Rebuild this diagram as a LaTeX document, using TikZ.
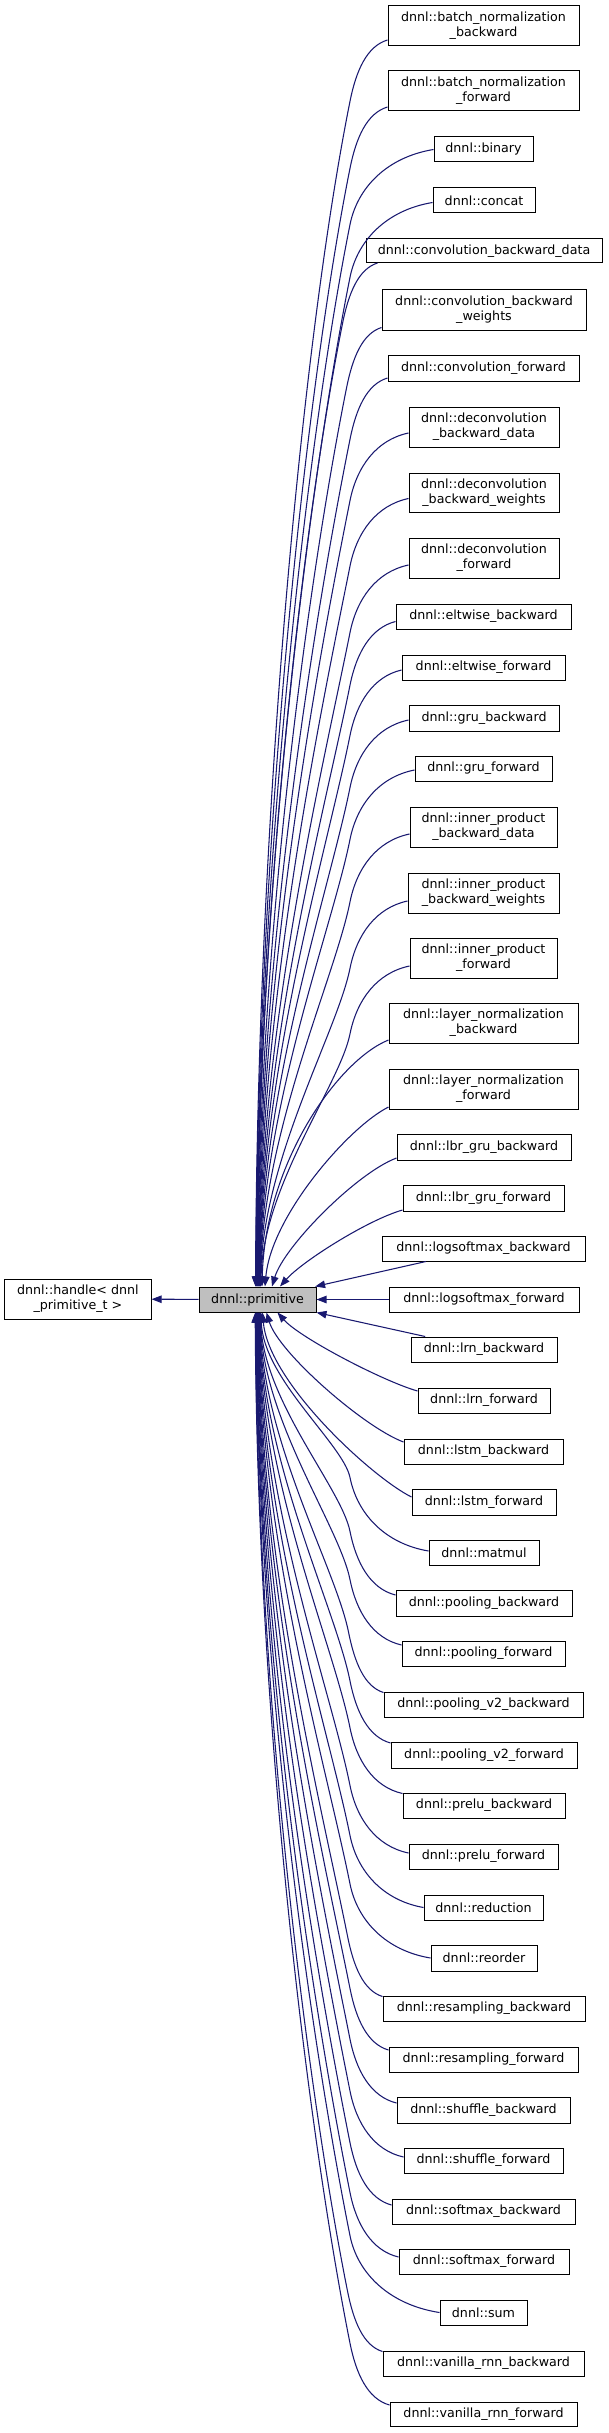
\documentclass[tikz,border=0pt]{standalone}
\usepackage{fontspec}
\setmainfont{DejaVu Sans}
\usetikzlibrary{arrows.meta,calc}
\definecolor{edgeblue}{HTML}{191970}
\definecolor{primfill}{HTML}{BFBFBF}
\newdimen\mydimx
\newdimen\mydimy
\begin{document}
\begin{tikzpicture}[x=0.75pt,y=-0.75pt,
  box/.style={draw=black, line width=0.75pt, inner sep=0pt, align=center,
    font=\fontsize{9.5}{11.25}\selectfont, text=black},
  edge/.style={draw=edgeblue, color=edgeblue, line width=0.8pt,
    -{Triangle[length=7.5pt,width=5.6pt]}}
]
\useasboundingbox (0,0) rectangle (609,2433);
\node[box, fill=primfill, minimum width=87.75pt, minimum height=18.75pt] (prim) at (257.5,1299.5) {dnnl::primitive};
\node[box, minimum width=109.75pt, minimum height=30pt] (handle) at (77.9,1299) {dnnl::handle< dnnl\\\_primitive\_t >};
\foreach \nm/\xl/\xr/\yt/\yb/\tx in {
bnb/388/579/6/46/{dnnl::batch\_normalization\\\_backward},
bnf/388/579/71/111/{dnnl::batch\_normalization\\\_forward},
binary/434/533/137/162/{dnnl::binary},
concat/433/535/188/213/{dnnl::concat},
cbd/366/602/239/263/{dnnl::convolution\_backward\_data},
cbw/382/586/289/330/{dnnl::convolution\_backward\\\_weights},
cf/388/579/355/381/{dnnl::convolution\_forward},
dbd/409/559/407/447/{dnnl::deconvolution\\\_backward\_data},
dbw/409/559/473/512/{dnnl::deconvolution\\\_backward\_weights},
df/409/559/538/578/{dnnl::deconvolution\\\_forward},
eb/396/571/604/629/{dnnl::eltwise\_backward},
ef/402/565/655/680/{dnnl::eltwise\_forward},
gb/409/559/705/731/{dnnl::gru\_backward},
gf/415/552/756/781/{dnnl::gru\_forward},
ipbd/410/557/807/847/{dnnl::inner\_product\\\_backward\_data},
ipbw/408/559/873/913/{dnnl::inner\_product\\\_backward\_weights},
ipf/410/557/938/978/{dnnl::inner\_product\\\_forward},
lnb/389/578/1003/1043/{dnnl::layer\_normalization\\\_backward},
lnf/389/578/1069/1109/{dnnl::layer\_normalization\\\_forward},
lgb/397/571/1134/1160/{dnnl::lbr\_gru\_backward},
lgf/403/564/1185/1211/{dnnl::lbr\_gru\_forward},
lsb/382/585/1236/1261/{dnnl::logsoftmax\_backward},
lsf/389/579/1287/1312/{dnnl::logsoftmax\_forward},
lrnb/411/557/1337/1362/{dnnl::lrn\_backward},
lrnf/418/550/1388/1413/{dnnl::lrn\_forward},
lstmb/404/563/1439/1464/{dnnl::lstm\_backward},
lstmf/412/556/1489/1515/{dnnl::lstm\_forward},
matmul/429/539/1540/1565/{dnnl::matmul},
pb/396/572/1590/1616/{dnnl::pooling\_backward},
pf/402/565/1641/1666/{dnnl::pooling\_forward},
pvb/384/583/1692/1717/{dnnl::pooling\_v2\_backward},
pvf/391/577/1742/1768/{dnnl::pooling\_v2\_forward},
prb/403/565/1793/1818/{dnnl::prelu\_backward},
prf/409/558/1844/1869/{dnnl::prelu\_forward},
reduction/424/543/1895/1920/{dnnl::reduction},
reorder/431/537/1945/1971/{dnnl::reorder},
rsb/383/585/1996/2021/{dnnl::resampling\_backward},
rsf/389/578/2047/2072/{dnnl::resampling\_forward},
shb/397/570/2097/2123/{dnnl::shuffle\_backward},
shf/404/563/2148/2173/{dnnl::shuffle\_forward},
smb/392/575/2199/2224/{dnnl::softmax\_backward},
smf/399/569/2249/2274/{dnnl::softmax\_forward},
sum/440/527/2300/2325/{dnnl::sum},
vrb/383/584/2351/2376/{dnnl::vanilla\_rnn\_backward},
vrf/390/577/2402/2426/{dnnl::vanilla\_rnn\_forward}}{
  \pgfmathsetmacro\bw{(\xr-\xl)*0.75}
  \pgfmathsetmacro\bh{(\yb-\yt)*0.75}
  \node[box, minimum width=\bw pt, minimum height=\bh pt] (\nm) at ({(\xl+\xr)/2},{(\yt+\yb)/2}) {\tx};
}
% far upper children: bend, then a long run down to the top of dnnl::primitive
\foreach \nm/\sx/\sy/\ex in {
bnb/0/14/-2, bnf/0/16/-1.7, binary/0/0/-1.3, concat/0/2/-1,
cbd/12/12/-0.6, cbw/0/18/-0.3, cf/0/10/0, dbd/0/6/0.4, dbw/0/6/0.7,
df/0/7/1, eb/0/5/1.4, ef/0/2.5/1.7, gb/0/2/2, gf/0/1.5/2.4,
ipbd/0/7/2.7, ipbw/0/8/3, ipf/0/8/3.4}{
  \pgfextractx{\mydimx}{\pgfpointanchor{\nm}{west}}
  \pgfextracty{\mydimy}{\pgfpointanchor{\nm}{west}}
  \pgfmathsetmacro\sX{\mydimx/0.75+\sx}
  \pgfmathsetmacro\sY{-\mydimy/0.75+\sy}
  \pgfextractx{\mydimx}{\pgfpointanchor{prim}{north}}
  \pgfextracty{\mydimy}{\pgfpointanchor{prim}{north}}
  \pgfmathsetmacro\eX{\mydimx/0.75+\ex}
  \pgfmathsetmacro\eY{-\mydimy/0.75}
  \pgfmathsetmacro\dk{max(35,\sX-350)}
  \pgfmathsetmacro\ky{50+0.3*\dk}
  \pgfmathsetmacro\kX{\sX-\dk}
  \pgfmathsetmacro\kY{\sY+\ky}
  \pgfmathsetmacro\cAx{\sX-0.55*\dk}
  \pgfmathsetmacro\cAy{\sY+0.1*\ky}
  \pgfmathsetmacro\cBx{\kX+0.1*\ky}
  \pgfmathsetmacro\cBy{\kY-0.5*\ky}
  \pgfmathsetmacro\DD{\eY-\kY}
  \pgfmathsetmacro\cCx{\kX-0.04*\DD}
  \pgfmathsetmacro\cCy{\kY+0.2*\DD}
  \pgfmathsetmacro\cDx{\eX+2}
  \pgfmathsetmacro\cDy{\eY-0.4*\DD}
  \draw[edge] ($(\nm.west)+(\sx,\sy)$) .. controls (\cAx,\cAy) and (\cBx,\cBy) .. (\kX,\kY)
     .. controls (\cCx,\cCy) and (\cDx,\cDy) .. ($(prim.north)+(\ex,0)$);
}
% far lower children
\foreach \nm/\sx/\sy/\ex in {
matmul/0/-1.5/3.5, pb/0/-8/3, pf/0/-8.5/2.7, pvb/0/-12/2.4, pvf/0/-12/2,
prb/0/-12/1.7, prf/0/-3.5/1.4, reduction/0/0/1, reorder/0/0/0.7,
rsb/0/-12/0.4, rsf/0/-9.5/0, shb/0/-7/-0.3, shf/0/-3.5/-0.6,
smb/0/-6.5/-1, smf/0/-4.5/-1.3, sum/0/0/-1.6, vrb/0/-12/-2, vrf/0/-9/-2.3}{
  \pgfextractx{\mydimx}{\pgfpointanchor{\nm}{west}}
  \pgfextracty{\mydimy}{\pgfpointanchor{\nm}{west}}
  \pgfmathsetmacro\sX{\mydimx/0.75+\sx}
  \pgfmathsetmacro\sY{-\mydimy/0.75+\sy}
  \pgfextractx{\mydimx}{\pgfpointanchor{prim}{south}}
  \pgfextracty{\mydimy}{\pgfpointanchor{prim}{south}}
  \pgfmathsetmacro\eX{\mydimx/0.75+\ex}
  \pgfmathsetmacro\eY{-\mydimy/0.75}
  \pgfmathsetmacro\dk{max(35,\sX-350)}
  \pgfmathsetmacro\ky{50+0.3*\dk}
  \pgfmathsetmacro\kX{\sX-\dk}
  \pgfmathsetmacro\kY{\sY-\ky}
  \pgfmathsetmacro\cAx{\sX-0.55*\dk}
  \pgfmathsetmacro\cAy{\sY-0.1*\ky}
  \pgfmathsetmacro\cBx{\kX+0.1*\ky}
  \pgfmathsetmacro\cBy{\kY+0.5*\ky}
  \pgfmathsetmacro\DD{\kY-\eY}
  \pgfmathsetmacro\cCx{\kX-0.04*\DD}
  \pgfmathsetmacro\cCy{\kY-0.2*\DD}
  \pgfmathsetmacro\cDx{\eX+2}
  \pgfmathsetmacro\cDy{\eY+0.4*\DD}
  \draw[edge] ($(\nm.west)+(\sx,\sy)$) .. controls (\cAx,\cAy) and (\cBx,\cBy) .. (\kX,\kY)
     .. controls (\cCx,\cCy) and (\cDx,\cDy) .. ($(prim.south)+(\ex,0)$);
}
% near upper children
\foreach \nm/\sx/\sy/\ex/\pa/\pb/\pg/\ph in {
lnb/0/17/4.5/50/20/3/124,
lnf/0/18/7.5/40/20/6/70,
lgb/0/11/14.5/40/15/12/40,
lgf/0/12/22.5/35/10/22/25}{
  \coordinate (s) at ($(\nm.west)+(\sx,\sy)$);
  \coordinate (e) at ($(prim.north)+(\ex,0)$);
  \coordinate (c1) at ($(s)+(-\pa,\pb)$);
  \coordinate (c2) at ($(e)+(\pg,-\ph)$);
  \draw[edge] (s) .. controls (c1) and (c2) .. (e);
}
% near lower children
\foreach \nm/\sx/\sy/\ex/\pa/\pb/\pg/\ph in {
lrnf/0/-9.5/20/35/10/22/25,
lstmb/0/-9.5/9/40/15/12/40,
lstmf/0/-5/5/40/20/6/70}{
  \coordinate (s) at ($(\nm.west)+(\sx,\sy)$);
  \coordinate (e) at ($(prim.south)+(\ex,0)$);
  \coordinate (c1) at ($(s)+(-\pa,-\pb)$);
  \coordinate (c2) at ($(e)+(\pg,\ph)$);
  \draw[edge] (s) .. controls (c1) and (c2) .. (e);
}
% straight edges
\draw[edge] (lsb) -- (prim);
\draw[edge] (lsf) -- (prim);
\draw[edge] (lrnb) -- (prim);
\draw[edge] (prim) -- (handle);
\end{tikzpicture}
\end{document}
